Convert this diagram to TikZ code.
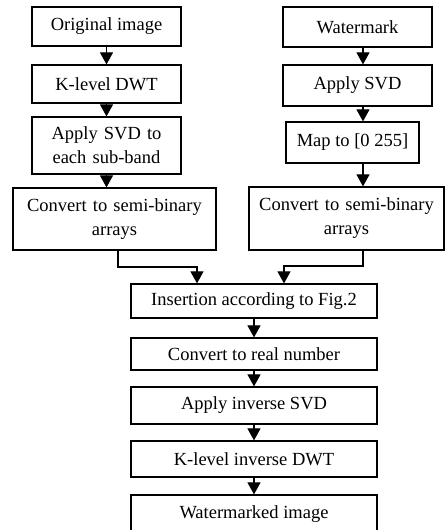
\documentclass[tikz,border=0pt]{standalone}
\usepackage{fontspec}
\setmainfont{Liberation Serif}
\usetikzlibrary{arrows.meta}
\begin{document}
\begin{tikzpicture}[x=1pt,y=1pt]
\tikzset{every node/.style={align=center, font=\fontsize{18.5}{24}\selectfont},
  box/.style={draw, line width=1.2pt, inner sep=0pt, minimum width=149pt},
  arr/.style={line width=1.2pt, -{Triangle[width=13pt,length=12pt]}}}
\useasboundingbox (0,0) rectangle (446,530);

\node[box, minimum height=39pt] (orig) at (106.5,503.5) {Original image};
\node[box, minimum height=38pt] (dwt) at (106.5,446) {K-level DWT};
\node[box, minimum height=57pt, text width=140pt] (svd) at (106.5,384.5) {Apply SVD to\\each sub-band};
\node[box, minimum width=203pt, minimum height=62pt, text width=198pt] (conva) at (114.5,311) {Convert to semi-binary\\arrays};

\node[box, minimum height=40pt] (wm) at (357.5,503) {Watermark};
\node[box, minimum height=41pt] (wsvd) at (357.5,444.5) {Apply SVD};
\node[box, minimum width=133pt, minimum height=41pt] (map) at (352.5,387.5) {Map to [0 255]};
\node[box, minimum width=195pt, minimum height=63pt, text width=190pt] (convb) at (346.5,311.5) {Convert to semi-binary\\arrays};

\node[box, minimum width=246pt, minimum height=34pt] (ins) at (254,229) {Insertion according to Fig.2};
\node[box, minimum width=246pt, minimum height=32pt] (real) at (254,176) {Convert to real number};
\node[box, minimum width=246pt, minimum height=37pt] (isvd) at (254,124.5) {Apply inverse SVD};
\node[box, minimum width=246pt, minimum height=36pt] (idwt) at (254,71) {K-level inverse DWT};
\node[box, minimum width=246pt, minimum height=38pt] (out) at (254,16) {Watermarked image};

\draw[arr] (orig) -- (dwt);
\draw[arr] (dwt) -- (svd);
\draw[arr] (svd.south) -- (svd.south |- conva.north);

\coordinate (rc) at (363,0);
\draw[arr] (wm.south -| rc) -- (wsvd.north -| rc);
\draw[arr] (wsvd.south -| rc) -- (map.north -| rc);
\draw[arr] (map.south -| rc) -- (convb.north -| rc);

\coordinate (lj) at (197,263);
\coordinate (rj) at (284,264);
\draw[arr] (conva.south -| 118,0) |- (lj) -- (lj |- ins.north);
\draw[arr] (convb.south -| rc) |- (rj) -- (rj |- ins.north);

\draw[arr] (ins) -- (real);
\draw[arr] (real) -- (isvd);
\draw[arr] (isvd) -- (idwt);
\draw[arr] (idwt) -- (out);
\end{tikzpicture}
\end{document}
